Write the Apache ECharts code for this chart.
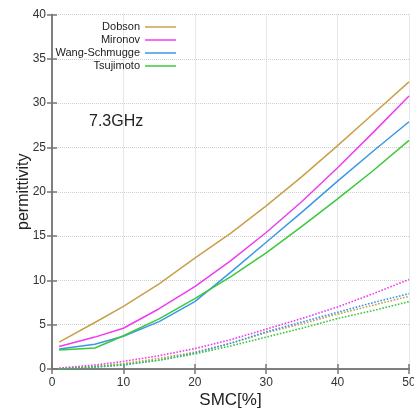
<!DOCTYPE html>
<html>
<head>
<meta charset="utf-8">
<script src="https://cdn.jsdelivr.net/npm/echarts@6/dist/echarts.min.js"></script>
<style>
html,body{margin:0;padding:0;background:#fff;}
#c{width:414px;height:409px;}
</style>
</head>
<body>
<div id="c"></div>
<script>
// SMC [%] sample points
const smc = [1, 6, 10, 15, 20, 25, 30, 35, 40, 45, 50];
const smcG = [1, 6, 8, 10, 15, 20, 25, 30, 35, 40, 45, 50];
// real part (solid)
const dobsonRe = [3.04, 5.25, 7.06, 9.6, 12.5, 15.3, 18.4, 21.7, 25.2, 28.8, 32.4];
const mironovRe = [2.55, 3.6, 4.6, 6.8, 9.3, 12.2, 15.4, 18.9, 22.7, 26.7, 30.8];
const wangRe = [2.25, 2.8, 3.7, 5.35, 7.6, 10.9, 14.3, 17.7, 21.2, 24.6, 27.9];
const tsujiRe = [2.14, 2.37, 3.05, 3.75, 5.65, 7.95, 10.4, 13.1, 16.1, 19.2, 22.4, 25.8];
// imaginary part (dotted)
const dobsonIm = [0.05, 0.3, 0.6, 1.2, 1.9, 2.9, 4.1, 5.1, 6.2, 7.2, 8.2];
const mironovIm = [0.1, 0.45, 0.85, 1.5, 2.3, 3.3, 4.5, 5.7, 7.0, 8.5, 10.1];
const wangIm = [0.02, 0.2, 0.45, 1.0, 1.8, 2.9, 4.2, 5.3, 6.4, 7.5, 8.5];
const tsujiIm = [0.03, 0.25, 0.5, 1.0, 1.7, 2.6, 3.6, 4.6, 5.7, 6.6, 7.6];

const names = ['Dobson', 'Mironov', 'Wang-Schmugge', 'Tsujimoto'];
const colors = ['#c9a04a', '#f03cf0', '#3b97e8', '#3cc83c'];
const xTicks = [0, 10, 20, 30, 40, 50];
const yTicks = [0, 5, 10, 15, 20, 25, 30, 35, 40];

const pairs = (xs, ys) => ys.map((v, i) => [xs[i], v]);
const reData = [pairs(smc, dobsonRe), pairs(smc, mironovRe), pairs(smc, wangRe), pairs(smcG, tsujiRe)];
const imData = [pairs(smc, dobsonIm), pairs(smc, mironovIm), pairs(smc, wangIm), pairs(smc, tsujiIm)];

const font = 'Liberation Sans, Arial, sans-serif';
const axisCol = '#777';

const series = [];
names.forEach((n, i) => {
  series.push({
    name: n, type: 'line', data: reData[i], symbol: 'none', smooth: false,
    lineStyle: { color: colors[i], width: 1.5 }, itemStyle: { color: colors[i] },
    xAxisIndex: 0, yAxisIndex: 0, z: 3
  });
});
names.forEach((n, i) => {
  series.push({
    name: n + " ε''", type: 'line', data: imData[i], symbol: 'none', smooth: false,
    lineStyle: { color: colors[i], width: 1.6, type: [1.6, 1.6] }, itemStyle: { color: colors[i] },
    xAxisIndex: 0, yAxisIndex: 0, z: 2
  });
});

const chart = echarts.init(document.getElementById('c'), null, { renderer: 'canvas' });
chart.setOption({
  animation: false,
  backgroundColor: '#fff',
  grid: { left: 52, right: 5, top: 14.5, bottom: 40, containLabel: false, outerBoundsMode: 'none' },
  legend: {
    data: names.map((n, i) => ({ name: n, icon: 'path://M0,0L31,0L31,1.5L0,1.5Z', itemStyle: { color: colors[i] } })),
    orient: 'vertical', align: 'right', right: 238, top: 20.5,
    padding: 0, itemGap: 0, itemWidth: 31, itemHeight: 1.5,
    textStyle: { fontFamily: font, fontSize: 11, lineHeight: 13, color: '#222' }
  },
  graphic: [{
    type: 'text', left: 89, top: 114,
    style: { text: '7.3GHz', font: '16px ' + font, fill: '#222' }
  }],
  xAxis: [{
    type: 'value', min: xTicks[0], max: xTicks[xTicks.length - 1], interval: 10,
    name: 'SMC[%]', nameLocation: 'middle', nameGap: 23, nameMoveOverlap: false,
    nameTextStyle: { fontFamily: font, fontSize: 17, color: '#222' },
    axisLine: { show: true, lineStyle: { color: axisCol, width: 1.5 } },
    axisTick: { show: true, inside: true, length: 5, lineStyle: { color: axisCol, width: 1.5 } },
    axisLabel: { fontFamily: font, fontSize: 12, color: '#333', margin: 8 },
    splitLine: { show: true, lineStyle: { color: '#d0d0d0', type: 'dotted', width: 1 } }
  }, {
    type: 'value', position: 'top', min: xTicks[0], max: xTicks[xTicks.length - 1], interval: 10,
    axisLine: { show: true, lineStyle: { color: axisCol, width: 1.5 } },
    axisTick: { show: true, inside: true, length: 5, lineStyle: { color: axisCol, width: 1.5 } },
    axisLabel: { show: false }, splitLine: { show: false }
  }],
  yAxis: [{
    type: 'value', min: yTicks[0], max: yTicks[yTicks.length - 1], interval: 5,
    name: 'permittivity', nameLocation: 'middle', nameGap: 20, nameMoveOverlap: false,
    nameTextStyle: { fontFamily: font, fontSize: 16, color: '#222' },
    axisLine: { show: true, lineStyle: { color: axisCol, width: 1.5 } },
    axisTick: { show: true, inside: true, length: 5, lineStyle: { color: axisCol, width: 1.5 } },
    axisLabel: { fontFamily: font, fontSize: 12, color: '#333', margin: 6 },
    splitLine: { show: true, lineStyle: { color: '#d0d0d0', type: 'dotted', width: 1 } }
  }, {
    type: 'value', position: 'right', min: yTicks[0], max: yTicks[yTicks.length - 1], interval: 5,
    axisLine: { show: true, lineStyle: { color: axisCol, width: 1.5 } },
    axisTick: { show: true, inside: true, length: 5, lineStyle: { color: axisCol, width: 1.5 } },
    axisLabel: { show: false }, splitLine: { show: false }
  }],
  series: series
});
</script>
</body>
</html>
